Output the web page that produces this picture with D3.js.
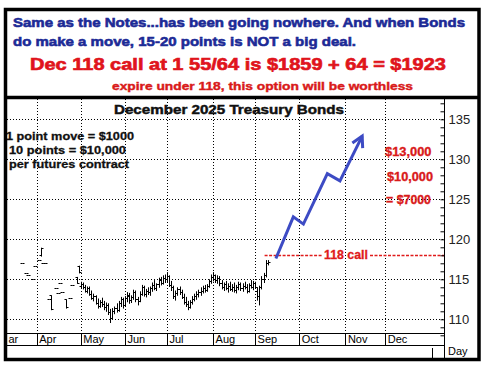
<!DOCTYPE html>
<html><head><meta charset="utf-8">
<script src="https://cdn.jsdelivr.net/npm/d3@7"></script>
<style>html,body{margin:0;padding:0;background:#fff;}svg{display:block;}</style>
</head><body>
<script>
// ---------- DATA ----------
const monthNames = ["Mar","Apr","May","Jun","Jul","Aug","Sep","Oct","Nov","Dec"];
const monthStart = [-21,0,21,42,62,84,104,125,147,166]; // trading-day index of month start
const yTicks = [110,115,120,125,130,135];

// daily bars: trading-day index, open, high, low, close
const barIdx = [-7,-5,-4,-2,-1,1,2,3,4,6,7,9,10,11,12,14,16,17,19,20,
 21,22,23,24,25,26,27,28,29,30,31,32,33,34,35,36,37,38,39,40,
 41,42,43,44,45,46,47,48,49,50,51,52,53,54,55,56,57,58,59,60,
 61,62,63,64,65,66,67,68,69,70,71,72,73,74,75,76,77,78,79,80,
 81,82,83,84,85,86,87,88,89,90,91,92,93,94,95,96,97,98,99,100,
 101,102,103,104,105,106,107,108,109,110];
const barOpen = [117.1,115.8,115.5,115.0,116.7,117.4,118.1,117.0,117.0,112.6,113.0,113.9,113.25,114.5,113.45,112.5,112.7,114.3,115.3,116.7,
 114.2,114.4,114.0,113.6,113.9,113.2,112.7,112.9,112.1,111.7,112.2,111.9,111.5,111.8,110.9,110.2,111.1,111.4,111.2,112.1,
 112.5,111.8,112.7,112.9,112.4,112.8,113.4,112.5,112.3,113.2,114.0,113.2,113.6,113.4,113.9,114.3,113.9,114.4,114.9,114.6,
 115.2,115.0,115.4,114.3,114.0,112.9,113.3,113.8,113.4,112.8,112.2,111.9,111.6,112.2,112.6,112.9,113.2,113.4,113.6,113.9,
 113.7,114.2,114.8,115.3,115.5,114.9,115.2,114.5,114.1,114.4,113.9,114.2,113.8,114.1,113.7,114.0,114.4,113.9,114.2,114.0,
 113.6,114.3,114.1,114.5,113.6,112.9,114.0,115.1,115.6,117.1];
const barHigh = [117.1,115.8,115.5,115.0,116.7,117.4,118.95,117.0,117.0,112.6,113.0,113.9,113.25,114.5,113.45,112.5,112.7,114.3,115.3,116.7,
 114.7,114.6,114.3,114.1,114.1,113.6,113.2,113.0,112.6,112.4,112.7,112.3,112.1,112.0,111.3,111.4,111.6,112.0,112.3,112.8,
 112.7,112.9,113.4,113.3,113.0,113.7,113.6,112.8,113.5,114.3,114.2,113.8,114.0,114.1,114.6,114.9,114.5,115.2,115.3,115.5,
 115.6,115.9,115.5,114.8,114.2,113.6,114.0,114.1,113.7,113.2,112.8,112.3,112.4,112.9,113.2,113.5,113.7,114.0,114.2,114.3,
 114.4,115.0,115.6,115.9,115.6,115.5,115.4,114.9,114.6,114.8,114.5,114.7,114.4,114.6,114.3,114.7,114.6,114.5,114.7,114.4,
 114.5,114.9,114.8,114.7,114.0,114.2,115.4,115.8,117.4,117.4];
const barLow = [117.1,115.8,115.5,115.0,116.7,117.4,117.9,117.0,117.0,112.6,111.2,113.9,113.25,114.5,113.45,111.4,112.7,114.3,114.5,115.8,
 113.9,113.8,113.4,113.3,113.0,112.5,112.3,111.9,111.4,111.5,111.6,111.2,111.0,110.6,109.6,110.0,110.7,110.9,111.0,111.6,
 111.4,111.6,112.2,112.0,112.1,112.5,112.2,111.8,112.2,113.0,112.9,112.8,113.1,113.0,113.5,113.7,113.6,114.0,114.3,114.4,
 114.6,114.7,114.1,113.6,112.6,112.4,113.0,113.1,112.6,111.9,111.6,111.2,111.4,111.9,112.3,112.5,112.8,113.0,113.3,113.4,
 113.5,114.0,114.5,114.8,114.6,114.5,114.2,113.8,113.6,113.7,113.4,113.6,113.5,113.4,113.3,113.7,113.6,113.5,113.8,113.3,
 113.4,113.9,113.7,113.9,112.4,111.8,113.8,114.6,115.3,116.8];
const barClose = [117.1,115.8,115.5,115.0,116.7,117.4,118.9,117.0,117.0,112.6,111.3,113.9,113.25,114.5,113.45,111.5,112.7,114.3,114.6,115.9,
 114.4,114.0,113.6,113.9,113.2,112.7,112.9,112.1,111.7,112.2,111.9,111.5,111.8,110.9,110.2,111.1,111.4,111.2,112.1,112.5,
 111.8,112.7,113.0,112.4,112.8,113.4,112.5,112.3,113.2,114.0,113.2,113.6,113.4,113.9,114.3,113.9,114.4,114.9,114.6,115.2,
 115.0,115.4,114.3,114.0,112.9,113.3,113.8,113.4,112.8,112.2,111.9,111.6,112.2,112.6,112.9,113.2,113.4,113.6,113.9,113.7,
 114.2,114.8,115.3,115.5,114.9,115.2,114.5,114.1,114.4,113.9,114.2,113.8,114.1,113.7,114.0,114.4,113.9,114.2,114.0,113.6,
 114.3,114.1,114.5,114.0,112.9,114.0,115.1,115.6,117.1,117.2];

// hand-drawn projection arrow (trading-day index, price)
const arrowIdx = [113.9,122.2,127.0,138.4,144.4,155.0];
const arrowPrice = [117.6,122.8,121.9,128.2,127.3,132.9];

const strike = 118;
const strikeStartIdx = 109;

// ---------- DRAW ----------
const W = 483, H = 368;
const svg = d3.select("body").append("svg").attr("width", W).attr("height", H);
svg.append("rect").attr("width", W).attr("height", H).attr("fill", "#fff");

const plotL = 7, plotR = 444, plotT = 99, plotB = 333, bandB = 345, outerB = 359;

const x = d3.scaleLinear().domain([0, 166]).range([36.7, 385.3]);
const y = d3.scaleLinear().domain([110, 135]).range([319.3, 119.3]);

const defs = svg.append("defs");
defs.append("clipPath").attr("id", "plotclip").append("rect")
  .attr("x", plotL).attr("y", plotT).attr("width", plotR - plotL).attr("height", bandB - plotT);

const plot = svg.append("g").attr("clip-path", "url(#plotclip)");

// grid
plot.selectAll(".hg").data(yTicks).join("line")
  .attr("x1", plotL).attr("x2", plotR)
  .attr("y1", d => Math.round(y(d)) + 0.5).attr("y2", d => Math.round(y(d)) + 0.5)
  .attr("stroke", "#000").attr("stroke-width", 1).attr("stroke-dasharray", "1,2");
plot.selectAll(".vg").data(monthStart).join("line")
  .attr("x1", d => Math.round(x(d)) + 0.5).attr("x2", d => Math.round(x(d)) + 0.5)
  .attr("y1", plotT).attr("y2", plotB)
  .attr("stroke", "#000").attr("stroke-width", 1).attr("stroke-dasharray", "1,2");

// month band
svg.append("line").attr("x1", plotL).attr("x2", plotR).attr("y1", plotB + 0.5).attr("y2", plotB + 0.5).attr("stroke", "#000");
svg.append("line").attr("x1", plotL).attr("x2", plotR).attr("y1", bandB + 0.5).attr("y2", bandB + 0.5).attr("stroke", "#000");
plot.selectAll(".mt").data(monthStart).join("line")
  .attr("x1", d => Math.round(x(d)) + 0.5).attr("x2", d => Math.round(x(d)) + 0.5)
  .attr("y1", plotB).attr("y2", bandB)
  .attr("stroke", "#000");
// first month label only partly visible at the left edge of the chart
const mlab = monthNames.map((d, i) => {
  const lx = x(monthStart[i]) + 2.5;
  return lx < plotL ? {t: d.slice(1), x: plotL + 1.5} : {t: d, x: lx};
});
svg.selectAll(".ml").data(mlab).join("text")
  .attr("x", d => d.x).attr("y", 343)
  .attr("font-family", "Liberation Sans, Arial, sans-serif").attr("font-size", 11)
  .attr("fill", "#000").text(d => d.t);

// bars
const bars = d3.range(barIdx.length).map(i => ({i: barIdx[i], o: barOpen[i], h: barHigh[i], l: barLow[i], c: barClose[i]}));
const bg = plot.append("g").attr("stroke", "#000").attr("stroke-width", 1);
bars.forEach(b => {
  const cx = Math.round(x(b.i)) + 0.5;
  if (b.h - b.l > 0.01) {
    bg.append("line").attr("x1", cx).attr("x2", cx).attr("y1", y(b.h)).attr("y2", y(b.l) + 0.5);
  }
  bg.append("line").attr("x1", cx - 2).attr("x2", cx).attr("y1", Math.round(y(b.o)) + 0.5).attr("y2", Math.round(y(b.o)) + 0.5);
  bg.append("line").attr("x1", cx).attr("x2", cx + 2).attr("y1", Math.round(y(b.c)) + 0.5).attr("y2", Math.round(y(b.c)) + 0.5);
});

// strike line
const sy = Math.round(y(strike)) + 0.5;
const labX1 = 322, labX2 = 370;
svg.append("line").attr("x1", x(strikeStartIdx) - 1).attr("x2", labX1).attr("y1", sy).attr("y2", sy)
  .attr("stroke", "#e01b1b").attr("stroke-width", 1.6).attr("stroke-dasharray", "3,1.5");
svg.append("line").attr("x1", labX2).attr("x2", plotR).attr("y1", sy).attr("y2", sy)
  .attr("stroke", "#e01b1b").attr("stroke-width", 1.6).attr("stroke-dasharray", "3,1.5");
svg.append("text").attr("x", 324).attr("y", sy + 3.8).attr("textLength", 44).attr("lengthAdjust", "spacingAndGlyphs")
  .attr("font-family", "Liberation Sans, Arial, sans-serif").attr("font-weight", "bold").attr("font-size", 12)
  .attr("fill", "#e01b1b").attr("stroke", "#e01b1b").attr("stroke-width", 0.3).text("118 call");

// arrow
const apts = arrowIdx.map((d, i) => [x(d), y(arrowPrice[i])]);
svg.append("path").attr("d", d3.line()(apts)).attr("fill", "none")
  .attr("stroke", "#3d4bc4").attr("stroke-width", 3).attr("stroke-linejoin", "miter");
const tip = apts[apts.length - 1], prev = apts[apts.length - 2];
const ang = Math.atan2(tip[1] - prev[1], tip[0] - prev[0]);
const headLen = 12, headAng = 0.5;
const hp = [
  [tip[0] - headLen * Math.cos(ang - headAng), tip[1] - headLen * Math.sin(ang - headAng)],
  tip,
  [tip[0] - headLen * Math.cos(ang + headAng), tip[1] - headLen * Math.sin(ang + headAng)]
];
svg.append("path").attr("d", d3.line()(hp)).attr("fill", "none")
  .attr("stroke", "#3d4bc4").attr("stroke-width", 3).attr("stroke-linejoin", "miter");

// y axis
const axG = svg.append("g").attr("transform", `translate(${plotR + 0.5},0)`);
axG.call(d3.axisLeft(y).tickValues(d3.range(108, 138, 1)).tickSize(4).tickFormat(""));
axG.select(".domain").remove();
axG.selectAll("line").attr("stroke", "#000");
const axL = svg.append("g").attr("transform", `translate(${plotR + 0.5},0)`);
axL.call(d3.axisRight(y).tickValues(yTicks).tickSize(0).tickPadding(4));
axL.select(".domain").remove();
axL.selectAll("text").attr("font-family", "Liberation Sans, Arial, sans-serif").attr("font-size", 13).attr("fill", "#222");
svg.append("line").attr("x1", plotR + 0.5).attr("x2", plotR + 0.5).attr("y1", plotT).attr("y2", outerB)
  .attr("stroke", "#000");
svg.append("line").attr("x1", 432.5).attr("x2", 432.5).attr("y1", 348).attr("y2", outerB).attr("stroke", "#000");
svg.append("text").attr("x", 448).attr("y", 355).attr("font-family", "Liberation Sans, Arial, sans-serif")
  .attr("font-size", 11).attr("fill", "#000").text("Day");

// chart texts
function txt(s, xx, yy, size, color, len, stroke) {
  const t = svg.append("text").attr("x", xx).attr("y", yy)
    .attr("font-family", "Liberation Sans, Arial, sans-serif").attr("font-weight", "bold")
    .attr("font-size", size).attr("fill", color).text(s);
  if (len) t.attr("textLength", len).attr("lengthAdjust", "spacingAndGlyphs");
  if (stroke) t.attr("stroke", color).attr("stroke-width", stroke);
  return t;
}
txt("December 2025 Treasury Bonds", 114, 114, 12.5, "#111", 230, 0.45);
txt("1 point move = $1000", 6, 139.5, 11.5, "#111", 128, 0.3);
txt("10 points = $10,000", 9, 153.5, 11.5, "#111", 117, 0.3);
txt("per futures contract", 9, 167.5, 11.5, "#111", 120, 0.3);
txt("$13,000", 385, 155.5, 12, "#d91a1a", 46.5, 0.35);
txt("$10,000", 387, 180.5, 12, "#d91a1a", 46, 0.35);
txt("= $7000", 386, 203.5, 12, "#d91a1a", 45, 0.35);

// header
txt("Same as the Notes...has been going nowhere. And when Bonds", 13, 27, 13.5, "#1c2a96", 452, 0.6);
txt("do make a move, 15-20 points is NOT a big deal.", 13, 45.5, 13.5, "#1c2a96", 343, 0.6);
txt("Dec 118 call at 1 55/64 is $1859 + 64 = $1923", 30, 70, 16.5, "#e0141c", 416, 0.65);
txt("expire under 118, this option will be worthless", 112, 89.5, 11, "#d91a1a", 301, 0.4);

// frame
svg.append("rect").attr("x", 5.5).attr("y", 9.5).attr("width", 473.5).attr("height", 350)
  .attr("fill", "none").attr("stroke", "#000").attr("stroke-width", 3.5);
svg.append("line").attr("x1", 5).attr("x2", 479).attr("y1", 97.5).attr("y2", 97.5)
  .attr("stroke", "#000").attr("stroke-width", 3.5);
</script>
</body></html>
